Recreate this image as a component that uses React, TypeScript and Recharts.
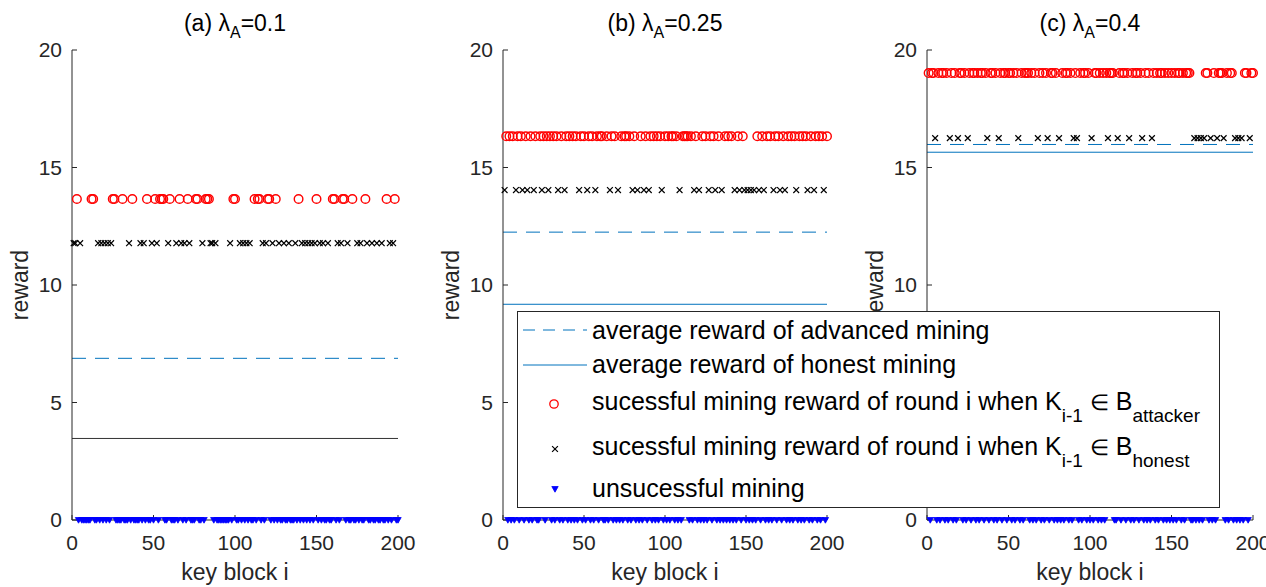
import React from 'react';
import { ScatterChart, Scatter, XAxis, YAxis, ReferenceLine, Legend } from 'recharts';

const keyBlockTicks = [0, 50, 100, 150, 200];
const rewardTicks = [0, 5, 10, 15, 20];

const panelNames = ['(a)', '(b)', '(c)'];
const lambdaLabels = ['0.1', '0.25', '0.4'];
const attackerReward = [13.66, 16.33, 19.02];
const honestReward = [11.78, 14.04, 16.25];
const advancedAverage = [6.88, 12.25, 15.98];
const honestAverage = [3.47, 9.18, 15.65];

// one char per key block i = 1..200:  o = success after attacker block, x = success after honest block, . = unsuccessful
const outcomesA = [
  'xxo.x.....', '.oo..x.x.x', '.x.xoo....', 'o...x.o...', '.x.x.o..x.',
  'ox.ooo..xo', '...x.ox.x.', 'ox...oo..x', '.oooxx.x..', '......x.oo',
  '..x.x.x.x.', '.o.oo.x.xo', 'o.x.o.x..x', '..x...x.o.', 'x.x.x.x.xo',
  '.x.x..x..o', 'o.x.xoo.x.', '.o..x.x..o', 'x..x..x..x', '..o.x.xo..',
].join('');

const outcomesB = [
  'xo.o.o.xo.', 'ox.ox.o.xo', '..oxo.oxo.', 'o.ox.o.xo.', 'o.o.o.xo.o',
  '.xo.o.xo.o', 'o..o.xo.o.', 'x.o.oo.o.x', 'o.x.o.xo.x', 'o.o.o.ox.o',
  '.o.oo.o.x.', 'oooo.o.xo.', 'x.o.o.xo.o', 'x.o.x.o.o.', 'o.x.ox.ox.',
  'x.x.x.ox.o', 'x.o.o.xo.o', 'x.ox.o.o.o', 'x.o.o.ox.o', '.xo.o.ox.o',
].join('');

const outcomesC = [
  'o.oox.o.oo', '.o.xo.o.xo', 'o.o.xo.oo.', 'o.oo.ox.oo', '.o.xo.oo.o',
  'o.o.ox.o.o', 'oo.o.o.xo.', 'o.ox.oo.o.', 'x.o.oo.o.x', 'ox.o.oo.o.',
  'x.oo.o.o.o', 'xooo..xo.o', 'o.ox.o.oo.', 'ox.o.o.xo.', 'o.oo.o.o.o',
  '.o.oo.o.oo', 'o..x.x.x.x', 'oo.x.o.xoo', 'ox.o.oo.x.', 'x.x.oo.xoo',
].join('');

const allOutcomes = [outcomesA, outcomesB, outcomesC];

const pick = (outcomes: string, code: string, y: number) =>
  outcomes
    .split('')
    .map((c, k) => (c === code ? { x: k + 1, y } : null))
    .filter((p) => p !== null) as { x: number; y: number }[];

const AXIS = '#262626';
const LINE_BLUE = '#0072BD';

const RedCircle = (p: any) => (
  <circle cx={p.cx} cy={p.cy} r={4.3} fill="none" stroke="#ff0000" strokeWidth={1.4} />
);

const BlackCross = (p: any) => {
  const s = 2.9;
  return (
    <path
      d={`M${p.cx - s},${p.cy - s}L${p.cx + s},${p.cy + s}M${p.cx - s},${p.cy + s}L${p.cx + s},${p.cy - s}`}
      stroke="#000"
      strokeWidth={1.2}
      fill="none"
    />
  );
};

const BlueTriangle = (p: any) => (
  <path
    d={`M${p.cx - 3.2},${p.cy - 2.5}L${p.cx + 3.2},${p.cy - 2.5}L${p.cx},${p.cy + 3.2}Z`}
    fill="#0000ff"
    stroke="#0000ff"
    strokeWidth={0.8}
  />
);

const LegendBox = () => (
  <svg width={703} height={197} style={{ display: 'block' }}>
    <rect x={0.5} y={0.5} width={702} height={196} fill="#fff" stroke="#262626" strokeWidth={1} />
    <line x1={6} x2={70} y1={19} y2={19} stroke={LINE_BLUE} strokeDasharray="12 8" />
    <line x1={6} x2={70} y1={54} y2={54} stroke={LINE_BLUE} />
    <circle cx={37} cy={93} r={4.2} fill="none" stroke="#ff0000" strokeWidth={1.3} />
    <BlackCross cx={38} cy={138} />
    <BlueTriangle cx={38} cy={178} />
    <g fontSize={25} fill="#000">
      <text x={75} y={28}>average reward of advanced mining</text>
      <text x={75} y={62}>average reward of honest mining</text>
      <text x={75} y={99}>
        sucessful mining reward of round i when K
        <tspan dy={12} fontSize={19}>i-1</tspan>
        <tspan dy={-12}>{'  '}</tspan>
        <tspan fontSize={22} fontWeight={300}>{'\u2208'}</tspan>
        <tspan> B</tspan>
        <tspan dy={12} fontSize={19}>attacker</tspan>
      </text>
      <text x={75} y={144}>
        sucessful mining reward of round i when K
        <tspan dy={12} fontSize={19}>i-1</tspan>
        <tspan dy={-12}>{'  '}</tspan>
        <tspan fontSize={22} fontWeight={300}>{'\u2208'}</tspan>
        <tspan> B</tspan>
        <tspan dy={12} fontSize={19}>honest</tspan>
      </text>
      <text x={75} y={186}>unsucessful mining</text>
    </g>
  </svg>
);

type PanelProps = {
  idx: number;
  left: number;
  width: number;
  axisWidth: number;
  marginRight: number;
  withLegend?: boolean;
};

const Panel = ({ idx, left, width, axisWidth, marginRight, withLegend }: PanelProps) => {
  const outcomes = allOutcomes[idx];
  const red = pick(outcomes, 'o', attackerReward[idx]);
  const black = pick(outcomes, 'x', honestReward[idx]);
  const blue = pick(outcomes, '.', 0);
  return (
    <div style={{ position: 'absolute', left, top: 0 }}>
      <ScatterChart width={width} height={587} margin={{ top: 50, right: marginRight, bottom: 0, left: 0 }}>
        <XAxis
          type="number"
          dataKey="x"
          domain={[0, 200]}
          ticks={keyBlockTicks}
          interval={0}
          height={67}
          tickSize={-5}
          tickMargin={20}
          stroke={AXIS}
          tick={{ fill: AXIS, fontSize: 21 }}
          label={{ value: 'key block i', position: 'insideBottom', offset: 7, fontSize: 23, fill: AXIS }}
        />
        <YAxis
          type="number"
          dataKey="y"
          domain={[0, 20]}
          ticks={rewardTicks}
          interval={0}
          width={axisWidth}
          tickSize={-5}
          tickMargin={15}
          stroke={AXIS}
          tick={{ fill: AXIS, fontSize: 21 }}
          label={{
            content: (props: any) => {
              const vb = props.viewBox;
              const x = vb.x + vb.width - 44;
              const y = vb.y + vb.height / 2;
              return (
                <text x={x} y={y} transform={`rotate(-90 ${x} ${y})`} textAnchor="middle" fontSize={23} fill={AXIS}>
                  reward
                </text>
              );
            },
          }}
        />
        <ReferenceLine y={advancedAverage[idx]} stroke={LINE_BLUE} strokeDasharray="14 9" strokeWidth={1} />
        <ReferenceLine y={honestAverage[idx]} stroke={idx === 0 ? '#333' : LINE_BLUE} strokeWidth={1} />
        <Scatter data={red} shape={RedCircle} isAnimationActive={false} />
        <Scatter data={black} shape={BlackCross} isAnimationActive={false} />
        <Scatter data={blue} shape={BlueTriangle} isAnimationActive={false} />
        {withLegend && (
          <Legend
            layout="vertical"
            align="center"
            verticalAlign="middle"
            content={() => <LegendBox />}
            wrapperStyle={{ left: 517 - left, top: 311, width: 703, height: 197 }}
          />
        )}
      </ScatterChart>
    </div>
  );
};

const panelCenters = [235, 665, 1090];

export default function App() {
  return (
    <div
      style={{
        position: 'absolute',
        left: 0,
        top: 0,
        width: 1266,
        height: 587,
        overflow: 'hidden',
        background: '#fff',
        fontFamily: '"Liberation Sans", Arial, sans-serif',
      }}
    >
      <Panel idx={0} left={0} width={420} axisWidth={72} marginRight={22} />
      <Panel idx={1} left={430} width={420} axisWidth={73} marginRight={23} />
      <Panel idx={2} left={850} width={416} axisWidth={77} marginRight={13} withLegend />
      <svg width={1266} height={50} style={{ position: 'absolute', left: 0, top: 0 }}>
        {panelCenters.map((cx, i) => (
          <text key={i} x={cx} y={31} textAnchor="middle" fontSize={23} fill="#000">
            {panelNames[i]} {'\u03bb'}
            <tspan dy={7} fontSize={16}>A</tspan>
            <tspan dy={-7}>={lambdaLabels[i]}</tspan>
          </text>
        ))}
      </svg>
    </div>
  );
}
